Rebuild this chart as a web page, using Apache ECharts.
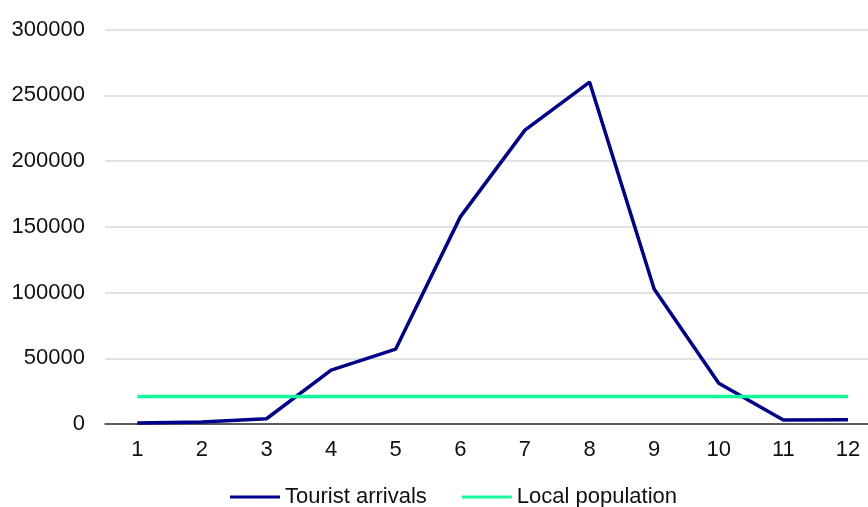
<!DOCTYPE html>
<html><head><meta charset="utf-8">
<script src="https://cdn.jsdelivr.net/npm/echarts@6/dist/echarts.min.js"></script>
<style>html,body{margin:0;padding:0;background:#fff}#c{width:868px;height:507px}</style>
</head><body><div id="c"></div>
<script>
const months = [1, 2, 3, 4, 5, 6, 7, 8, 9, 10, 11, 12];
const touristArrivals = [800, 1500, 4000, 41000, 57000, 157500, 223500, 260000, 102700, 31000, 3000, 3300];
const localPopulation = [21000, 21000, 21000, 21000, 21000, 21000, 21000, 21000, 21000, 21000, 21000, 21000];
const chart = echarts.init(document.getElementById('c'));
const font = {fontFamily: 'Liberation Sans', fontSize: 22, color: '#111'};
const pairs = arr => months.map((m, i) => [m, arr[i]]);
chart.setOption({
  animation: false,
  grid: {left: 105, right: 0, top: 29.5, height: 394.5, containLabel: false},
  legend: {
    top: 486, left: 230, padding: 0, itemWidth: 50, itemHeight: 3, itemGap: 35, itemTextGap: 5,
    icon: 'rect',
    textStyle: font,
    data: ['Tourist arrivals', 'Local population']
  },
  xAxis: {
    type: 'value', min: 0.5, max: 12.31,
    splitLine: {show: false},
    axisLine: {onZero: false, lineStyle: {color: '#333', width: 1.5}},
    axisTick: {show: false},
    axisLabel: Object.assign({margin: 15, customValues: months, showMinLabel: true, showMaxLabel: true}, font)
  },
  yAxis: {
    type: 'value', min: 0, max: 300000, interval: 50000,
    axisLine: {show: false}, axisTick: {show: false},
    splitLine: {lineStyle: {color: '#d9d9d9', width: 1.5}},
    axisLabel: Object.assign({margin: 20, formatter: v => String(v)}, font)
  },
  series: [
    {name: 'Tourist arrivals', type: 'line', data: pairs(touristArrivals), symbol: 'none',
     lineStyle: {color: '#00008B', width: 3.5}, itemStyle: {color: '#00008B'}},
    {name: 'Local population', type: 'line', data: pairs(localPopulation), symbol: 'none',
     lineStyle: {color: '#12F99A', width: 3.5}, itemStyle: {color: '#12F99A'}}
  ]
});
</script></body></html>
